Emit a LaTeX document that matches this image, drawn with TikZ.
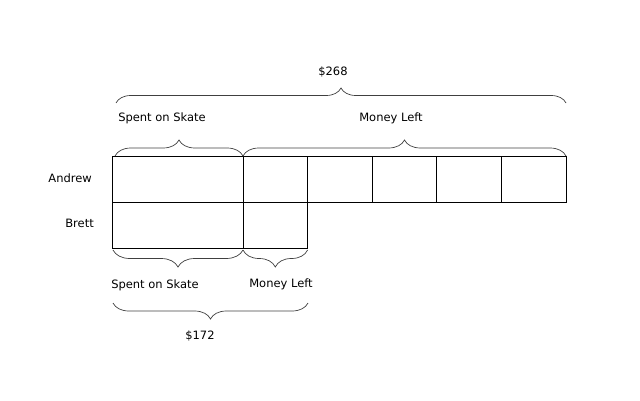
\documentclass[tikz,border=0pt]{standalone}
\usepackage{fontspec}
\setmainfont{DejaVu Sans}
\usetikzlibrary{positioning,decorations.pathreplacing}

\begin{document}
\begin{tikzpicture}[x=1pt,y=1pt,
  cellbox/.style={draw,line width=0.8pt,minimum width=64.6pt,minimum height=46pt,inner sep=0pt,outer sep=0pt},
  brc/.style={draw,black!75,line width=0.7pt,decorate,decoration={brace,amplitude=#1}},
  lbl/.style={font=\fontsize{11.5}{13}\selectfont,inner sep=0pt}]
  \useasboundingbox (0,0) rectangle (640,400);
  % Andrew's bar
  \node[cellbox,minimum width=131pt] (spentA) at (177.5,221) {};
  \node[cellbox,right=0pt of spentA] (leftA1) {};
  \foreach \i [remember=\i as \j (initially 1)] in {2,...,5}
    \node[cellbox,right=0pt of leftA\j] (leftA\i) {};
  % Brett's bar
  \node[cellbox,minimum width=131pt,below=0pt of spentA] (spentB) {};
  \node[cellbox,below=0pt of leftA1] (leftB) {};
  % names
  \node[lbl,anchor=east] (andrew) at (92,222) {Andrew};
  \node[lbl,anchor=east] (brett) at (94,177) {Brett};
  % braces above
  \draw[brc=15pt] (116,297) -- (566,297);
  \node[lbl] (total) at (333,328) {\$268};
  \draw[brc=16pt] ([xshift=3pt]spentA.north west) -- (spentA.north east);
  \draw[brc=16pt] (spentA.north east) -- (leftA5.north east);
  \node[lbl] (spenttop) at (162,282) {Spent on Skate};
  \node[lbl] (lefttop) at (391,282) {Money Left};
  % braces below
  \draw[brc=17pt] ([yshift=-2pt]spentB.south east) -- ([xshift=1pt,yshift=-2pt]spentB.south west);
  \draw[brc=17pt] ([yshift=-2pt]leftB.south east) -- ([yshift=-2pt]leftB.south west);
  \node[lbl] (spentbot) at (155,115) {Spent on Skate};
  \node[lbl] (leftbot) at (281,116) {Money Left};
  \draw[brc=16pt] (308,97) -- (113,97);
  \node[lbl] (brettotal) at (200,64) {\$172};
\end{tikzpicture}
\end{document}
